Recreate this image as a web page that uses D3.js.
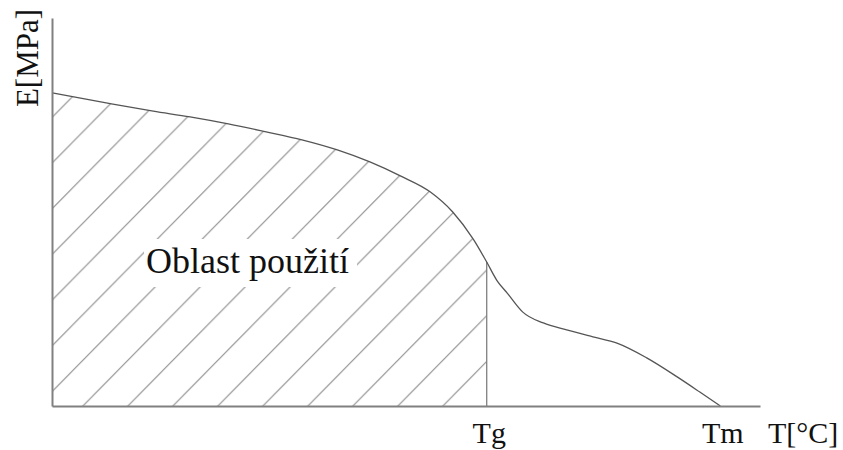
<!DOCTYPE html>
<html>
<head>
<meta charset="utf-8">
<script src="https://cdn.jsdelivr.net/npm/d3@7"></script>
<style>
  html, body { margin: 0; padding: 0; background: #fff; }
  svg { display: block; }
</style>
</head>
<body>
<div id="chart"></div>
<script>
// temperature (relative units, 0..100 along the axis)
const temps = [0, 8.6, 14.3, 19.5, 24.9, 30.4, 35.3, 40.3, 44.9, 49.2, 53.4, 56.6, 59.5, 61.4,
  62.9, 64.3, 66.5, 69.4, 72.7, 76.4, 79.8, 84.0, 88.3, 91.5, 94.4];
// modulus E (relative units)
const modulus = [80.7, 77.8, 76.0, 74.5, 72.7, 70.6, 68.6, 66.0, 62.9, 59.3, 55.2, 50.0, 43.0, 37.1,
  32.2, 29.1, 24.2, 21.4, 19.6, 17.8, 16.2, 12.4, 7.5, 3.6, 0];

const tickValues = [61.4, 94.4];
const tickLabels = ['Tg', 'Tm'];
const xTitle = 'T[°C]';
const yTitle = 'E[MPa]';
const areaLabel = 'Oblast použití';

const serif = "'Liberation Serif', 'Times New Roman', serif";
const tg = tickValues[0];
const points = temps.map((t, i) => ({ t, e: modulus[i] }));

const width = 843;
const height = 450;

const svg = d3.select('#chart')
  .append('svg')
  .attr('width', width)
  .attr('height', height)
  .attr('viewBox', [0, 0, width, height]);

const x = d3.scaleLinear().domain([0, 100]).range([52, 760]);
const y = d3.scaleLinear().domain([0, 100]).range([406, 18]);

// hatch pattern (diagonal lines)
const defs = svg.append('defs');
const stepX = 45;
const stepY = 45.7;
defs.append('pattern')
  .attr('id', 'hatch')
  .attr('patternUnits', 'userSpaceOnUse')
  .attr('x', 37.2)
  .attr('y', 41.1)
  .attr('width', stepX)
  .attr('height', stepY)
  .append('path')
  .attr('d', `M-2,2l4,-4M0,${stepY}L${stepX},0M${stepX - 2},${stepY + 2}l4,-4`)
  .attr('stroke', '#8a8a8a')
  .attr('stroke-width', 1.1);

// area under the curve up to Tg
const usable = points.filter((d) => d.t <= tg);
const area = d3.area()
  .x((d) => x(d.t))
  .y0(y(0))
  .y1((d) => y(d.e))
  .curve(d3.curveMonotoneX);

svg.append('path')
  .datum(usable)
  .attr('d', area)
  .attr('fill', 'url(#hatch)');

// label with white background
const label = svg.append('g');
const labelBg = label.append('rect').attr('fill', '#fff');
const labelText = label.append('text')
  .attr('x', 146)
  .attr('y', 273)
  .style('font-family', serif)
  .style('font-size', '36px')
  .attr('fill', '#111')
  .text(areaLabel);
const bb = labelText.node().getBBox();
labelBg
  .attr('x', bb.x - 2)
  .attr('y', 239)
  .attr('width', bb.width + 10)
  .attr('height', 48);

// Tg vertical line
const eAtTg = modulus[temps.indexOf(tg)];
svg.append('line')
  .attr('x1', x(tg))
  .attr('x2', x(tg))
  .attr('y1', y(0))
  .attr('y2', y(eAtTg))
  .attr('stroke', '#808080')
  .attr('stroke-width', 1.3);

// curve
const line = d3.line()
  .x((d) => x(d.t))
  .y((d) => y(d.e))
  .curve(d3.curveMonotoneX);

svg.append('path')
  .datum(points)
  .attr('d', line)
  .attr('fill', 'none')
  .attr('stroke', '#555')
  .attr('stroke-width', 1.3);

// axes
svg.append('g')
  .attr('transform', `translate(0,${y(0)})`)
  .call(d3.axisBottom(x)
    .tickValues(tickValues)
    .tickFormat((d, i) => tickLabels[i])
    .tickSize(0)
    .tickSizeOuter(0)
    .tickPadding(16))
  .call((g) => g.select('.domain').attr('stroke', '#808080').attr('stroke-width', 2))
  .call((g) => g.selectAll('text')
    .attr('dx', 2)
    .style('font-family', serif)
    .style('font-size', '30px')
    .attr('fill', '#111'));

svg.append('g')
  .attr('transform', `translate(${x(0)},0)`)
  .call(d3.axisLeft(y).tickValues([]).tickSizeOuter(0))
  .call((g) => g.select('.domain').attr('stroke', '#808080').attr('stroke-width', 2));

// axis titles
svg.append('text')
  .attr('x', 768)
  .attr('y', 443)
  .style('font-family', serif)
  .style('font-size', '30px')
  .attr('fill', '#111')
  .text(xTitle);

svg.append('text')
  .attr('transform', 'translate(38,58) rotate(-90)')
  .attr('text-anchor', 'middle')
  .style('font-family', serif)
  .style('font-size', '31px')
  .attr('fill', '#111')
  .text(yTitle);
</script>
</body>
</html>
